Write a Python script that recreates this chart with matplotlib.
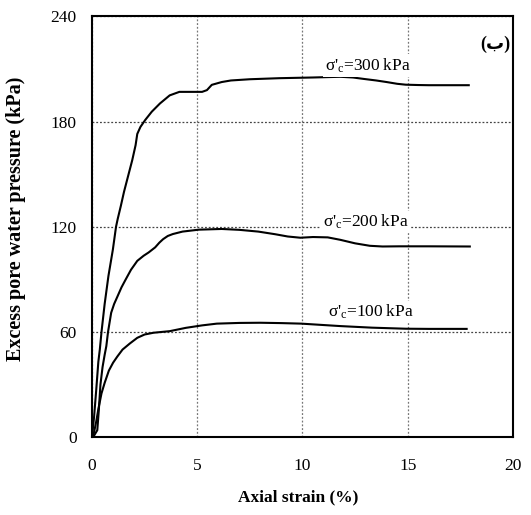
import matplotlib
matplotlib.use("Agg")
import matplotlib.pyplot as plt

plt.rcParams['font.family'] = ['Liberation Serif', 'DejaVu Sans']
plt.rcParams['mathtext.fontset'] = 'custom'
plt.rcParams['mathtext.rm'] = 'Liberation Serif'
plt.rcParams['mathtext.it'] = 'Liberation Serif:italic'

# axial strain (%) / excess pore water pressure (kPa) for each confining stress
strain_300 = [0, 0.1, 0.2, 0.3, 0.37, 0.45, 0.6, 0.78, 0.99, 1.14, 1.22, 1.37,
              1.52, 1.68, 1.91, 2.07, 2.15, 2.3, 2.53, 2.84, 3.23, 3.69, 4.15,
              4.77, 5.23, 5.46, 5.69, 6.16, 6.6, 7.5, 8.9, 10.5, 11.8, 12.4,
              12.9, 13.5, 14.0, 14.5, 14.9, 15.5, 16.0, 17.9]
epwp_300 = [0, 12, 27, 43, 50, 60, 76, 92, 107, 120, 124.5, 132,
            140, 147.4, 158, 166.6, 173, 177, 181, 185.7, 190.4, 195, 197,
            197, 197, 198, 201, 202.6, 203.5, 204.2, 204.8, 205.2, 205.6, 205.2,
            204.4, 203.5, 202.6, 201.6, 201.1, 200.9, 200.8, 200.8]

strain_200 = [0, 0.1, 0.25, 0.32, 0.4, 0.5, 0.6, 0.68, 0.76, 0.91, 1.05, 1.22,
              1.4, 1.6, 1.85, 2.15, 2.45, 2.69, 3.0, 3.2, 3.38, 3.6, 3.84, 4.3,
              5.08, 6.16, 7.0, 7.9, 8.7, 9.3, 9.9, 10.5, 11.2, 11.8, 12.5, 13.2,
              13.8, 14.6, 16.0, 17.95]
epwp_200 = [0, 1, 4, 15, 30, 40, 47, 52, 60, 71, 76, 80.6,
            85.5, 90, 95.5, 100.6, 103.5, 105.4, 108.3, 111, 113, 114.8, 115.9, 117.3,
            118.4, 118.8, 118.3, 117.3, 115.8, 114.5, 113.8, 114.2, 114, 112.6, 110.6, 109.2,
            108.8, 108.9, 108.9, 108.8]

strain_100 = [0, 0.1, 0.2, 0.3, 0.45, 0.6, 0.8, 1.0, 1.2, 1.45, 1.8, 2.15, 2.5,
              2.92, 3.69, 4.46, 5.23, 5.93, 7.0, 8.0, 9.0, 9.94, 11.0, 11.8, 13.3,
              14.9, 16.0, 17.8]
epwp_100 = [0, 3, 9, 16, 25, 31, 38, 42.5, 46, 50, 53.5, 56.7, 58.6,
            59.6, 60.5, 62.4, 63.8, 64.8, 65.2, 65.3, 65.1, 64.8, 64, 63.4, 62.5,
            61.9, 61.8, 61.8]

curve_labels = ["σ'$_\\mathrm{c}$=300\u2009kPa",
                "σ'$_\\mathrm{c}$=200\u2009kPa",
                "σ'$_\\mathrm{c}$=100\u2009kPa"]
label_pos = [(11.06, 212), (10.97, 122.8), (11.2, 71.4)]

fig = plt.figure(figsize=(5.31, 5.15), dpi=100)
ax = fig.add_axes([0.1733, 0.151, 0.7927, 0.817])

for xs, ys in [(strain_300, epwp_300), (strain_200, epwp_200), (strain_100, epwp_100)]:
    ax.plot(xs, ys, color='black', lw=1.5, solid_joinstyle='round', zorder=3)

for txt, (lx, ly) in zip(curve_labels, label_pos):
    ax.text(lx, ly, txt, fontsize=12.5, ha='left', va='center', zorder=4,
            bbox=dict(facecolor='white', edgecolor='none', pad=1.5))

ax.text(19.18, 224, "(ب)", fontsize=13, fontweight='bold', ha='center', va='center')

ax.set_xlim(0, 20)
ax.set_ylim(0, 240)
ax.set_xticks([0, 5, 10, 15, 20])
ax.set_yticks([0, 60, 120, 180, 240])
# vertical grid a bit lighter than the horizontal one
ax.xaxis.grid(True, color='#777777', linestyle=(0, (1.5, 1.5)), linewidth=0.9)
ax.yaxis.grid(True, color='#444444', linestyle=(0, (1.5, 1.5)), linewidth=0.9)
ax.set_axisbelow(True)
ax.tick_params(axis='x', length=0, pad=15, labelsize=12.5)
ax.tick_params(axis='y', length=0, pad=11, labelsize=12.5)
for sp in ax.spines.values():
    sp.set_linewidth(1.5)

ax.set_xlabel("Axial strain (%)", fontsize=12.5, fontweight='bold')
ax.xaxis.set_label_coords(0.489, -0.125)
ax.set_ylabel("Excess pore water pressure (kPa)", fontsize=14.5, fontweight='bold')
ax.yaxis.set_label_coords(-0.157, 0.518)

fig.savefig("out.png", dpi=100)
